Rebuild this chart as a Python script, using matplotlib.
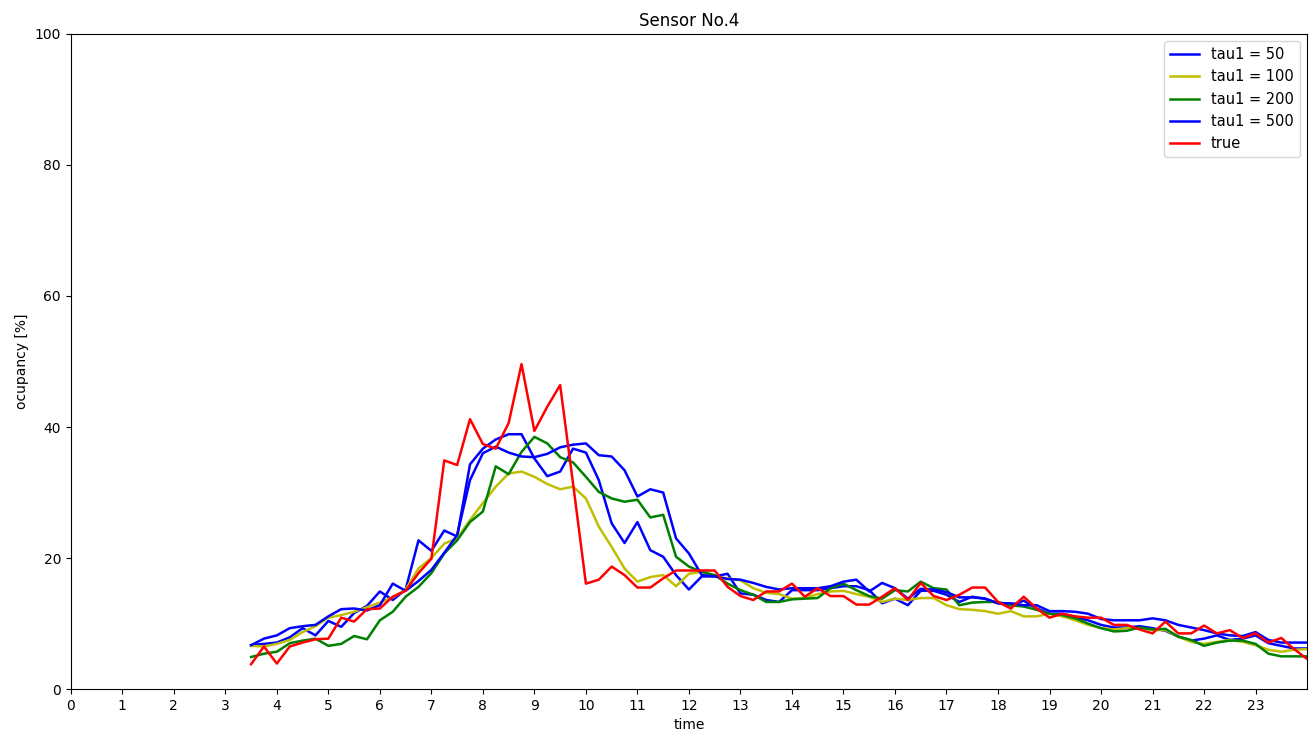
import numpy as np
import matplotlib
matplotlib.use('Agg')
import matplotlib.pyplot as plt


# time of day in hours, one sample every 15 minutes
hours = np.arange(3.5, 24.01, 0.25)

occ_tau50 = [6.7, 6.9, 7.1, 7.9, 9.3, 8.2, 10.4, 9.5, 11.6, 12.7,
             14.9, 13.6, 15.2, 22.7, 21.1, 24.2, 23.3, 34.3, 36.7, 38.1,
             38.9, 38.9, 35.2, 32.5, 33.2, 36.7, 36.1, 31.9, 25.3, 22.3,
             25.5, 21.2, 20.2, 17.4, 15.2, 17.2, 17.2, 17.6, 14.6, 14.4,
             13.6, 13.3, 15.1, 15.1, 15.1, 15.4, 15.7, 15.7, 15.1, 13.1,
             13.8, 12.8, 15.0, 15.0, 14.4, 13.3, 14.1, 13.8, 13.1, 12.8,
             13.5, 12.3, 11.5, 11.5, 11.0, 10.5, 9.8, 9.4, 9.4, 9.6,
             9.3, 8.9, 8.0, 7.4, 7.7, 8.2, 7.5, 7.7, 8.2, 7.0,
             6.6, 6.2, 6.2]

occ_tau100 = [6.6, 6.5, 6.9, 7.5, 8.7, 9.6, 10.9, 11.3, 11.8, 12.5,
              13.2, 14.0, 15.2, 18.4, 20.0, 22.2, 23.0, 25.8, 28.4, 30.9,
              32.9, 33.2, 32.4, 31.3, 30.5, 30.9, 29.1, 24.8, 21.7, 18.4,
              16.4, 17.1, 17.4, 15.7, 17.6, 17.9, 17.2, 16.9, 16.6, 15.4,
              14.7, 14.5, 13.8, 13.9, 14.5, 14.9, 15.0, 14.5, 14.1, 13.3,
              13.8, 13.6, 13.9, 13.9, 12.8, 12.2, 12.1, 11.9, 11.5, 11.9,
              11.1, 11.1, 11.5, 11.1, 10.5, 9.8, 9.3, 9.1, 9.3, 9.3,
              9.0, 9.0, 8.0, 7.2, 6.9, 7.2, 7.5, 7.2, 6.7, 6.0,
              5.7, 6.0, 6.1]

occ_tau200 = [4.9, 5.4, 5.7, 7.0, 7.4, 7.7, 6.6, 6.9, 8.1, 7.6,
              10.5, 11.8, 14.1, 15.6, 17.7, 20.7, 22.7, 25.5, 27.1, 34.0,
              32.8, 36.2, 38.5, 37.5, 35.4, 34.6, 32.4, 30.1, 29.1, 28.6,
              28.9, 26.2, 26.6, 20.2, 18.7, 17.9, 17.4, 16.1, 15.1, 14.4,
              13.3, 13.3, 13.7, 13.8, 13.9, 15.4, 16.1, 15.1, 14.2, 13.8,
              15.1, 14.9, 16.4, 15.4, 15.2, 12.8, 13.2, 13.3, 13.3, 12.8,
              12.6, 12.1, 11.5, 11.3, 10.8, 10.0, 9.3, 8.8, 8.9, 9.4,
              9.1, 9.2, 8.0, 7.5, 6.6, 7.1, 7.4, 7.4, 6.9, 5.4,
              5.0, 5.0, 5.0]

occ_tau500 = [6.7, 7.7, 8.2, 9.3, 9.6, 9.8, 11.1, 12.2, 12.3, 12.0,
              12.8, 16.1, 15.0, 16.5, 18.2, 20.8, 23.5, 31.9, 36.0, 37.0,
              36.1, 35.5, 35.4, 35.9, 36.9, 37.3, 37.5, 35.7, 35.5, 33.4,
              29.4, 30.5, 30.0, 23.0, 20.7, 17.4, 17.2, 16.8, 16.7, 16.2,
              15.6, 15.2, 15.4, 15.4, 15.4, 15.7, 16.4, 16.7, 14.9, 16.2,
              15.4, 13.8, 15.3, 15.2, 14.8, 14.0, 14.0, 13.8, 13.1, 13.1,
              12.8, 12.8, 11.9, 11.9, 11.8, 11.5, 10.7, 10.5, 10.5, 10.5,
              10.8, 10.5, 9.8, 9.4, 9.0, 8.5, 8.2, 8.1, 8.7, 7.5,
              7.1, 7.1, 7.1]

occ_true = [3.8, 6.5, 3.9, 6.5, 7.1, 7.6, 7.7, 10.9, 10.3, 12.2,
            12.3, 14.1, 15.0, 17.7, 19.9, 34.9, 34.2, 41.2, 37.4, 36.7,
            40.6, 49.6, 39.4, 43.1, 46.4, 31.4, 16.1, 16.7, 18.7, 17.4,
            15.5, 15.5, 16.9, 18.1, 18.1, 18.1, 18.1, 15.6, 14.2, 13.6,
            14.9, 14.9, 16.1, 14.1, 15.4, 14.2, 14.2, 12.9, 12.9, 14.1,
            15.4, 13.6, 16.2, 14.2, 13.6, 14.4, 15.5, 15.5, 13.3, 12.3,
            14.1, 12.3, 10.9, 11.5, 11.1, 10.9, 10.9, 9.8, 9.8, 9.1,
            8.5, 10.3, 8.5, 8.5, 9.7, 8.5, 9.0, 7.8, 8.5, 7.1,
            7.8, 6.1, 4.6]

fig, ax = plt.subplots(figsize=(13.11, 7.37), dpi=100)
fig.subplots_adjust(left=0.054, right=0.997, top=0.954, bottom=0.065)

lw = 1.8
ax.plot(hours, occ_tau50, 'b', lw=lw, label='tau1 = 50')
ax.plot(hours, occ_tau100, 'y', lw=lw, label='tau1 = 100')
ax.plot(hours, occ_tau200, 'g', lw=lw, label='tau1 = 200')
ax.plot(hours, occ_tau500, 'b', lw=lw, label='tau1 = 500')
ax.plot(hours, occ_true, 'r', lw=lw, label='true')

ax.set_xlim(0, 24)
ax.set_ylim(0, 100)
ax.set_xticks(range(24))
ax.set_title('Sensor No.4')
ax.set_xlabel('time')
ax.set_ylabel('ocupancy [%]')
ax.legend(loc='upper right', fontsize=10.5)

fig.savefig('out.png')
